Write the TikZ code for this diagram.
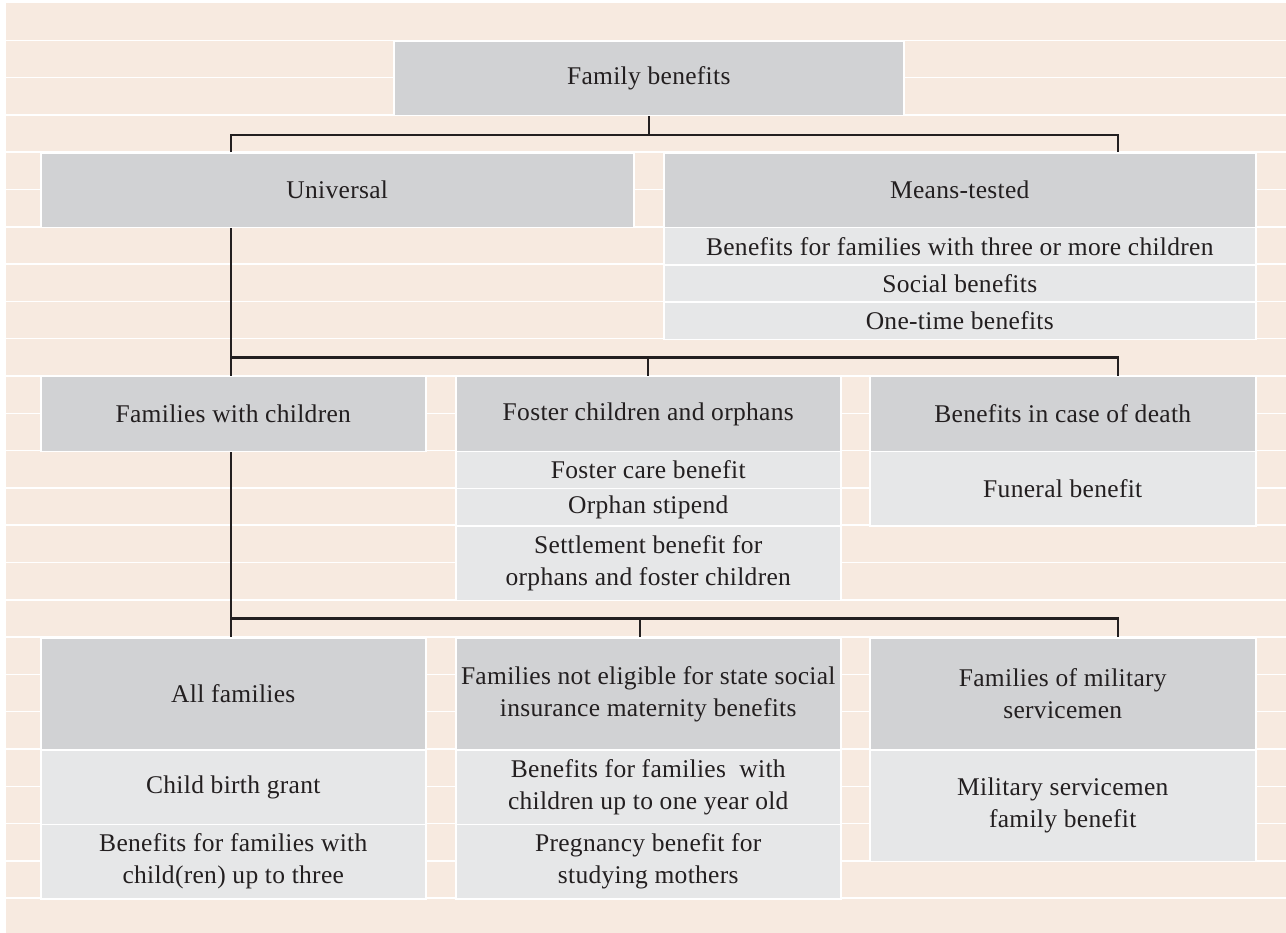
\documentclass[tikz,border=0pt]{standalone}
\usepackage{fontspec}
\setmainfont{Liberation Serif}[LetterSpace=1.2]
\definecolor{paper}{RGB}{247,234,224}
\definecolor{headgrey}{RGB}{209,210,212}
\definecolor{itemgrey}{RGB}{230,231,232}
\definecolor{linkblack}{RGB}{35,31,32}
\begin{document}
\begin{tikzpicture}[x=1pt,y=-1pt,
  box/.style={anchor=north west,draw=white,line width=1.5pt,inner sep=0pt,
    align=center,text=linkblack,font=\fontsize{25.5}{32}\selectfont},
  head/.style={box,fill=headgrey},
  item/.style={box,fill=itemgrey},
  link/.style={draw=linkblack,line width=2.4pt}]
\useasboundingbox (0,0) rectangle (1286,933);
\fill[paper] (6,3) rectangle (1286,933);
% stripes of the paper
\foreach \k in {1,...,24}
{
  \draw[white,line width=1.5pt] (6,{3+37.3*\k}) -- (1286,{3+37.3*\k});
}

% top
\node[head,minimum width=510pt,minimum height=74.6pt] (fam) at (393,40.3) {Family benefits};
\node[head,minimum width=593pt,minimum height=74.6pt] (univ) at (40,152.2) {Universal};
\node[head,minimum width=592pt,minimum height=74.6pt] (means) at (663,152.2) {Means-tested};
\node[item,minimum width=592pt,minimum height=37.3pt] (m1) at (663,226.8) {Benefits for families with three or more children};
\node[item,minimum width=592pt,minimum height=37.3pt] (m2) at (663,264.1) {Social benefits};
\node[item,minimum width=592pt,minimum height=37.3pt] (m3) at (663,301.4) {One-time benefits};

% middle row
\node[head,minimum width=385pt,minimum height=74.6pt] (fwc) at (40,376) {Families with children};
\node[head,minimum width=385pt,minimum height=74.6pt] (foster) at (455,376) {Foster children and orphans};
\node[head,minimum width=386pt,minimum height=74.6pt] (death) at (869,376) {Benefits in case of death};
\node[item,minimum width=385pt,minimum height=37.3pt] (f1) at (455,450.6) {Foster care benefit};
\node[item,minimum width=385pt,minimum height=37.3pt] (f2) at (455,487.9) {Orphan stipend};
\node[item,minimum width=385pt,minimum height=74.6pt] (f3) at (455,525.2) {Settlement benefit for\\orphans and foster children};
\node[item,minimum width=386pt,minimum height=74.6pt] (d1) at (869,450.6) {Funeral benefit};

% bottom row
\node[head,minimum width=385pt,minimum height=111.9pt] (all) at (40,637.1) {All families};
\node[head,minimum width=385pt,minimum height=111.9pt] (noins) at (455,637.1) {Families not eligible for state social\\insurance maternity benefits};
\node[head,minimum width=386pt,minimum height=111.9pt] (mil) at (869,637.1) {Families of military\\servicemen};
\node[item,minimum width=385pt,minimum height=74.6pt] (a1) at (40,749) {Child birth grant};
\node[item,minimum width=385pt,minimum height=74.6pt] (a2) at (40,823.6) {Benefits for families with\\child(ren) up to three};
\node[item,minimum width=385pt,minimum height=74.6pt] (n1) at (455,749) {Benefits for families\ \ with\\children up to one year old};
\node[item,minimum width=385pt,minimum height=74.6pt] (n2) at (455,823.6) {Pregnancy benefit for\\studying mothers};
\node[item,minimum width=386pt,minimum height=111.9pt] (s1) at (869,749) {Military servicemen\\family benefit};

% connectors
\coordinate (ltrunk) at (231,0);
\coordinate (rtrunk) at (1118,0);
\coordinate (mtick) at (640,0);
\draw[link] (fam.south) -- ++(0,18.6) coordinate (split1);
\draw[link] (univ.north -| ltrunk) |- (split1) -| (means.north -| rtrunk);

\draw[link] (univ.south -| ltrunk) -- (fwc.north -| ltrunk);
\path (fwc.north -| ltrunk) ++(0,-18.6) coordinate (split2);
\draw[link] (split2) -| (death.north -| rtrunk);
\draw[link] (foster.north) -- (foster.north |- split2);

\draw[link] (fwc.south -| ltrunk) -- (all.north -| ltrunk);
\path (all.north -| ltrunk) ++(0,-18.6) coordinate (split3);
\draw[link] (split3) -| (mil.north -| rtrunk);
\draw[link] (noins.north -| mtick) -- (split3 -| mtick);
\end{tikzpicture}
\end{document}
